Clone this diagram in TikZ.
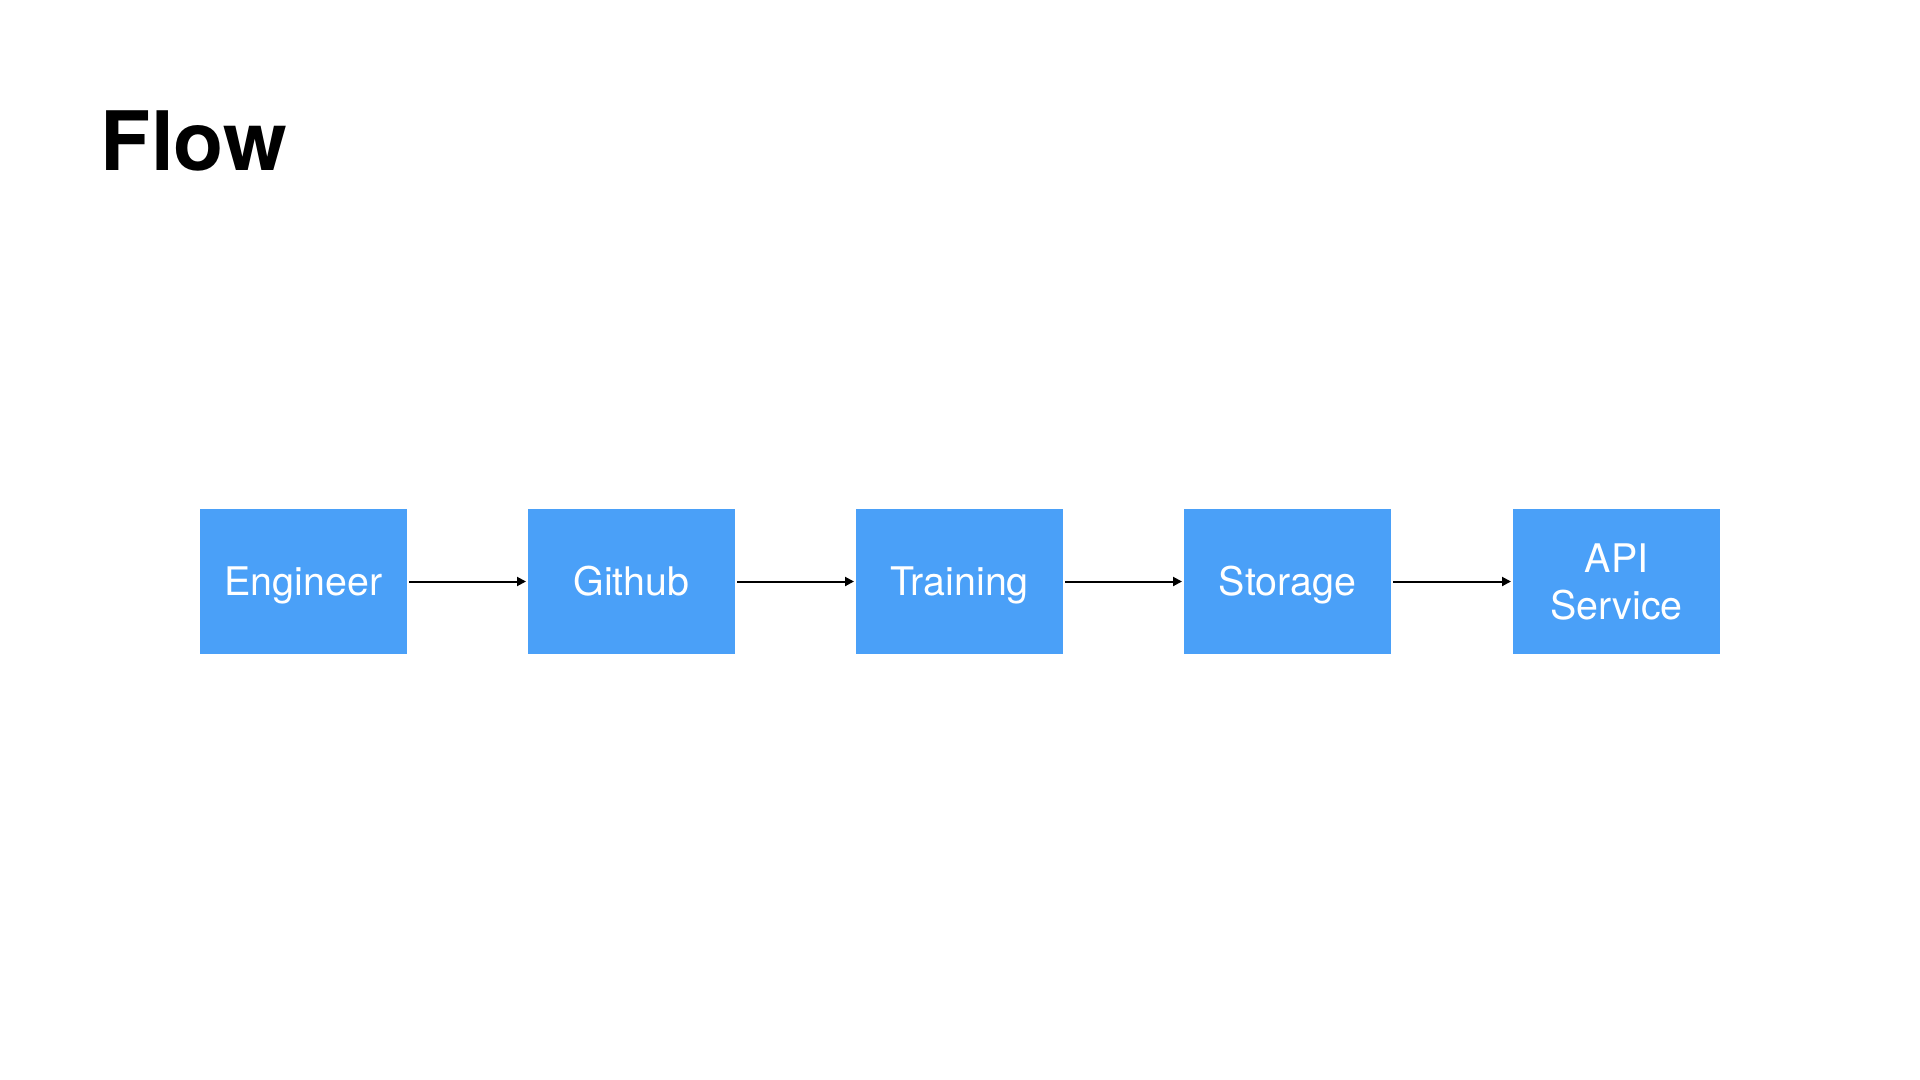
\documentclass[tikz,border=0pt]{standalone}
\usepackage{fontspec}
\setmainfont{TeX Gyre Heros}
\usetikzlibrary{arrows.meta}
\definecolor{boxblue}{RGB}{74,160,248}
\tikzset{
  flowbox/.style={rectangle, fill=boxblue, draw=none, inner sep=0pt,
    minimum width=103.5pt, minimum height=72.25pt,
    text=white, font=\fontsize{19.7}{23.35}\selectfont, align=center,
    text height=14.15pt, text depth=0pt},
  flowarrow/.style={-{Triangle[length=4.5pt,width=4.5pt]}, line width=1pt, black,
    shorten <=0.8pt, shorten >=0.8pt},
  titletext/.style={anchor=base west, inner sep=0pt, font=\fontsize{41}{48}\selectfont\bfseries}
}
\begin{document}
\begin{tikzpicture}[x=0.5pt,y=-0.5pt]
\useasboundingbox[fill=white] (0,0) rectangle (1920,1080);
\node[titletext] (title) at (100.5,170.7) {Flow};
\node[flowbox] (eng) at (303.5,581.5) {Engineer};
\node[flowbox] (git) at (631.5,581.5) {Github};
\node[flowbox] (train) at (959.5,581.5) {Training};
\node[flowbox] (store) at (1287.5,581.5) {Storage};
\node[flowbox, text height=37.5pt, text depth=0pt] (api) at (1616.5,581.5) {API\\Service};
\draw[flowarrow] (eng.east) -- (git.west);
\draw[flowarrow] (git.east) -- (train.west);
\draw[flowarrow] (train.east) -- (store.west);
\draw[flowarrow] (store.east) -- (api.west);
\end{tikzpicture}
\end{document}
